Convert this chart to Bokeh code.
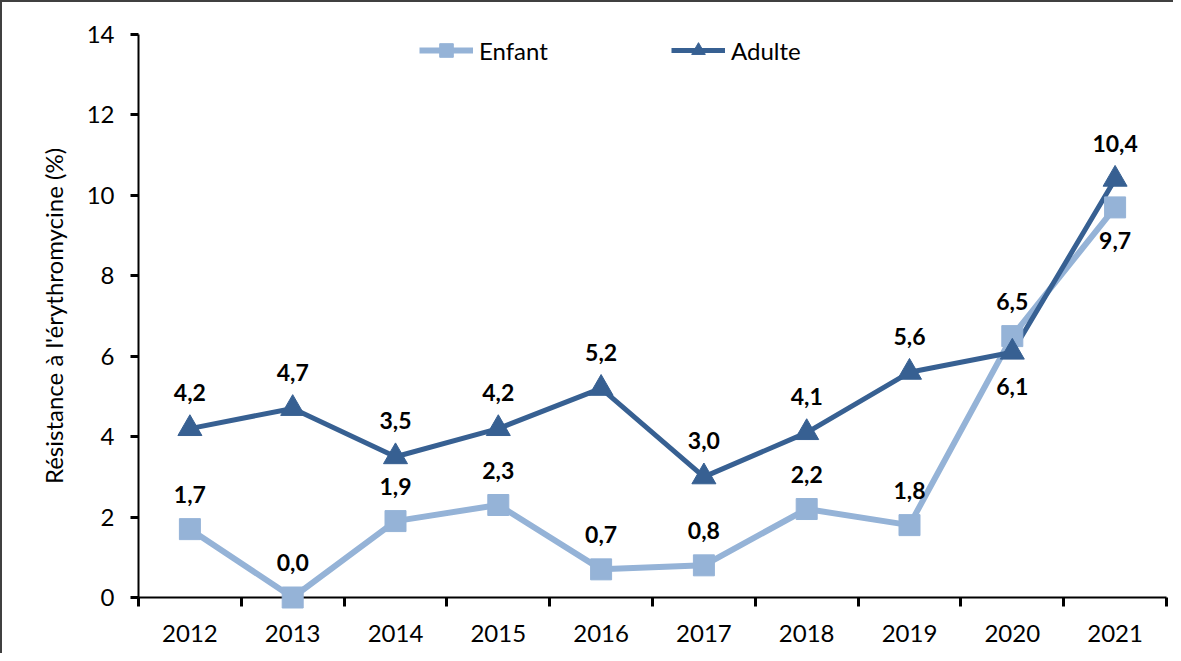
from bokeh.plotting import figure
from bokeh.models import Range1d, FixedTicker, ColumnDataSource, Legend, LegendItem
from bokeh.core.properties import value
from bokeh.embed import file_html
from bokeh.resources import INLINE

years = ["2012", "2013", "2014", "2015", "2016", "2017", "2018", "2019", "2020", "2021"]
enfant = [1.7, 0.0, 1.9, 2.3, 0.7, 0.8, 2.2, 1.8, 6.5, 9.7]
adulte = [4.2, 4.7, 3.5, 4.2, 5.2, 3.0, 4.1, 5.6, 6.1, 10.4]
y_ticks = [0, 2, 4, 6, 8, 10, 12, 14]

C_ENF = "#95B3D7"
C_ADU = "#376092"
FONT = "Lato"

xs = [i + 0.5 for i in range(len(years))]

p = figure(width=1173, height=653, output_backend="svg", toolbar_location=None,
           x_range=Range1d(0, len(years)), y_range=Range1d(0, 14),
           min_border_left=136, min_border_right=9, min_border_top=32, min_border_bottom=58)
p.styles = {"border-left": "2px solid #404040", "border-top": "2px solid #404040"}
p.outline_line_color = None
p.xgrid.visible = False
p.ygrid.visible = False

# axes
xa = p.xaxis[0]
xa.ticker = FixedTicker(ticks=xs, minor_ticks=list(range(len(years) + 1)))
xa.major_label_overrides = {x: y for x, y in zip(xs, years)}
xa.major_tick_out = 0
xa.major_tick_in = 0
xa.minor_tick_out = 9
xa.minor_tick_in = 0
xa.minor_tick_line_color = "black"
xa.minor_tick_line_width = 3
xa.axis_line_width = 2
xa.axis_line_color = "black"
xa.major_label_standoff = 18
xa.major_label_text_font = FONT
xa.major_label_text_font_size = "24px"
xa.major_label_text_color = "black"

ya = p.yaxis[0]
ya.ticker = FixedTicker(ticks=y_ticks)
ya.minor_tick_out = 0
ya.minor_tick_in = 0
ya.major_tick_out = 8
ya.major_tick_in = 0
ya.major_tick_line_width = 3
ya.major_tick_line_color = "black"
ya.axis_line_width = 2
ya.axis_line_color = "black"
ya.major_label_standoff = 16
ya.major_label_text_font = FONT
ya.major_label_text_font_size = "24px"
ya.major_label_text_color = "black"
ya.axis_label = "Résistance à l'érythromycine (%)"
ya.axis_label_text_font = FONT
ya.axis_label_text_font_size = "24px"
ya.axis_label_text_font_style = "normal"
ya.axis_label_text_color = "black"
ya.axis_label_standoff = 16

src_e = ColumnDataSource(dict(x=xs, y=enfant,
                              lab=[f"{v:.1f}".replace(".", ",") for v in enfant],
                              off=[33 if i == len(years) - 1 else -35 for i in range(len(years))]))
src_a = ColumnDataSource(dict(x=xs, y=adulte,
                              lab=[f"{v:.1f}".replace(".", ",") for v in adulte],
                              off=[34 if i == len(years) - 2 else -36 for i in range(len(years))]))

le = p.line("x", "y", source=src_e, line_color=C_ENF, line_width=6)
se = p.scatter("x", "y", source=src_e, marker="square", size=21, fill_color=C_ENF,
               line_color=C_ENF, level="overlay")
la = p.line("x", "y", source=src_a, line_color=C_ADU, line_width=5)
sa = p.scatter("x", "y", source=src_a, marker="triangle", size=24, fill_color=C_ADU,
               line_color=C_ADU, level="overlay")

for src in (src_e, src_a):
    p.text("x", "y", text="lab", source=src, y_offset="off", text_align="center",
           text_baseline="middle", text_font=value(FONT), text_font_style="bold",
           text_font_size="23px", text_color="black")

legend = Legend(items=[LegendItem(label="Enfant", renderers=[le, se]),
                       LegendItem(label="Adulte", renderers=[la, sa])],
                orientation="horizontal", location=(281, 530),
                glyph_width=54, glyph_height=34, label_standoff=6, label_width=70,
                spacing=122, padding=0, margin=0,
                border_line_color=None, background_fill_alpha=0,
                label_text_font=FONT, label_text_font_size="24px", label_text_color="black")
p.add_layout(legend)

open("out.html", "w").write(file_html(p, INLINE))
